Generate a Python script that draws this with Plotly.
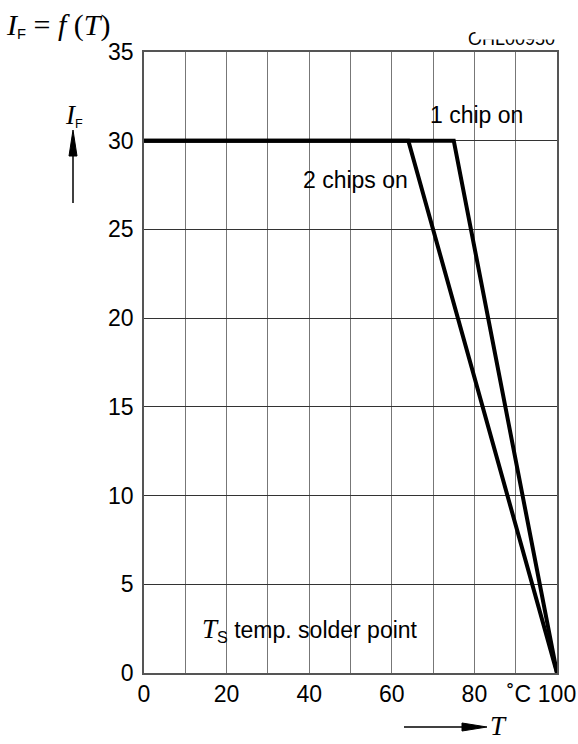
import plotly.graph_objects as go

# Data
temp_2chips = [0, 64, 100]
cur_2chips = [30, 30, 0]
temp_1chip = [0, 75, 100]
cur_1chip = [30, 30, 0]
x_tickvals = [0, 20, 40, 60, 80, 90, 100]
x_ticktext = ["0", "20", "40", "60", "80", "&nbsp;˚C", "100"]
y_tickvals = [0, 5, 10, 15, 20, 25, 30, 35]

W, H = 578, 744
L, R, T, B = 144, 557, 52, 673  # plot area in pixels

def fx(px):
    return (px - L) / (R - L)

def fy(py):
    return (B - py) / (B - T)

SANS = "Liberation Sans, Arial, sans-serif"
SERIF = "Liberation Serif, Times New Roman, serif"

fig = go.Figure()
fig.add_trace(go.Scatter(x=temp_2chips, y=cur_2chips, mode="lines",
                         line=dict(color="black", width=4), cliponaxis=False,
                         showlegend=False, hoverinfo="skip"))
fig.add_trace(go.Scatter(x=temp_1chip, y=cur_1chip, mode="lines",
                         line=dict(color="black", width=4), cliponaxis=False,
                         showlegend=False, hoverinfo="skip"))

fig.update_layout(
    width=W, height=H,
    margin=dict(l=L, r=W - R, t=T, b=H - B, pad=0),
    paper_bgcolor="white", plot_bgcolor="white",
    font=dict(family=SANS, color="black", size=22),
    xaxis=dict(range=[0, 100], tickvals=x_tickvals, ticktext=x_ticktext,
               showgrid=True, gridcolor="#777", gridwidth=1.3,
               showline=True, linecolor="#555", linewidth=1.5, mirror=True,
               ticks="", ticklabelstandoff=0, tickfont=dict(size=23, family=SANS),
               zeroline=False, fixedrange=True, automargin=False),
    yaxis=dict(range=[0, 35], tickvals=y_tickvals,
               showgrid=True, gridcolor="#333", gridwidth=1,
               showline=True, linecolor="#555", linewidth=1.5, mirror=True,
               ticks="", ticklabelstandoff=4, tickfont=dict(size=23, family=SANS),
               zeroline=False, fixedrange=True, automargin=False),
)
fig.update_xaxes(minor=dict(tickvals=[10, 30, 50, 70, 90], showgrid=True,
                            gridcolor="#777", gridwidth=1.3, ticks=""))

ann = []
# Title
ann.append(dict(x=fx(4), y=fy(25), xref="paper", yref="paper", xanchor="left", yanchor="middle",
                showarrow=False,
                text="<i>I</i><span style='font-family:Liberation Sans;font-size:21px'><sub>F</sub></span> = <i>f</i> (<i>T</i>)",
                font=dict(family=SERIF, size=30)))
# code label (partly hidden)
ann.append(dict(x=fx(557), y=fy(39), xref="paper", yref="paper", xanchor="right", yanchor="middle",
                showarrow=False, text="OHL00950", font=dict(family=SANS, size=18)))
ann.append(dict(x=fx(522), y=fy(30), xref="paper", yref="paper", xanchor="center", yanchor="middle",
                showarrow=False, text=" ", width=90, height=16, bgcolor="white"))
# y axis label
ann.append(dict(x=fx(74), y=fy(115), xref="paper", yref="paper", xanchor="center", yanchor="middle",
                showarrow=False,
                text="<i>I</i><span style='font-family:Liberation Sans;font-size:18px'><sub>F</sub></span>",
                font=dict(family=SERIF, size=27)))
# x axis label
ann.append(dict(x=fx(498), y=fy(726), xref="paper", yref="paper", xanchor="center", yanchor="middle",
                showarrow=False, text="<i>T</i>", font=dict(family=SERIF, size=27)))
# in-plot labels (white boxes drawn as shapes between grid and traces)
ann.append(dict(x=fx(476), y=fy(115), xref="paper", yref="paper", xanchor="center", yanchor="middle",
                showarrow=False, text="1 chip on", font=dict(family=SANS, size=23)))
ann.append(dict(x=fx(355), y=fy(180), xref="paper", yref="paper", xanchor="center", yanchor="middle",
                showarrow=False, text="2 chips on", font=dict(family=SANS, size=23)))
ann.append(dict(x=fx(310), y=fy(630), xref="paper", yref="paper", xanchor="center", yanchor="middle",
                showarrow=False,
                text="<span style='font-family:Liberation Serif;font-size:27px'><i>T</i></span><sub>S</sub> temp. solder point",
                font=dict(family=SANS, size=23)))
fig.update_layout(annotations=ann)

shapes = []
for (x0, x1, y0, y1) in [(425, 525, 97, 133), (295, 412, 157, 202), (192, 422, 608, 652)]:
    shapes.append(dict(type="rect", xref="paper", yref="paper", layer="between",
                       x0=fx(x0), x1=fx(x1), y0=fy(y1), y1=fy(y0),
                       fillcolor="white", line=dict(width=0)))
# y arrow
shapes.append(dict(type="line", xref="paper", yref="paper", x0=fx(73), x1=fx(73), y0=fy(203), y1=fy(150),
                   line=dict(color="black", width=1.5)))
shapes.append(dict(type="path", xref="paper", yref="paper",
                   path=f"M {fx(73)} {fy(130)} L {fx(69)} {fy(156)} L {fx(77)} {fy(156)} Z",
                   fillcolor="black", line=dict(color="black", width=1)))
# x arrow
shapes.append(dict(type="line", xref="paper", yref="paper", x0=fx(404), x1=fx(470), y0=fy(727), y1=fy(727),
                   line=dict(color="black", width=1.5)))
shapes.append(dict(type="path", xref="paper", yref="paper",
                   path=f"M {fx(487)} {fy(727)} L {fx(462)} {fy(723)} L {fx(462)} {fy(731)} Z",
                   fillcolor="black", line=dict(color="black", width=1)))
fig.update_layout(shapes=shapes)

fig.write_html("out.html", config={"displayModeBar": False},
               post_script="document.body.style.margin='0';document.body.style.overflow='hidden';")
